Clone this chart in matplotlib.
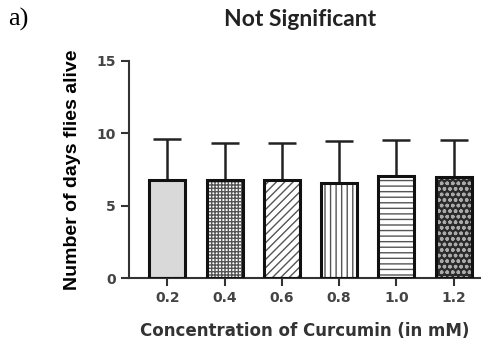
import numpy as np
import matplotlib.pyplot as plt

conc = ['0.2', '0.4', '0.6', '0.8', '1.0', '1.2']
days = [6.8, 6.8, 6.8, 6.55, 7.05, 6.95]
sd = [2.8, 2.55, 2.55, 2.95, 2.5, 2.6]
hatches = ['', '+++++', '////', '|||', '---', '']
faces = ['#d9d9d9', 'white', 'white', 'white', 'white', '#2b2b2b']

fig = plt.figure(figsize=(4.89, 3.49), dpi=100)
ax = fig.add_axes([129/489, 1-278/349, (480-129)/489, (278-61)/349])

x = np.arange(len(conc))
w = 0.63
ax.errorbar(x, days, yerr=[np.zeros(len(sd)), sd], fmt='none', ecolor='#222222',
            elinewidth=1.8, capsize=10, capthick=1.8, zorder=1)
for i in range(len(conc)):
    ax.bar(x[i], days[i], w, color=faces[i], edgecolor='#555555', hatch=hatches[i],
           linewidth=0, zorder=2)
    if i == 5:
        ax.bar(x[i], days[i], w, color='none', edgecolor='#aaaaaa', hatch='ooo',
               linewidth=0, zorder=3)
    ax.bar(x[i], days[i], w, color='none', edgecolor='#111111', linewidth=2.2, zorder=4)

ax.set_xlim(-0.67, 5.46)
ax.set_ylim(0, 15)
ax.set_yticks([0, 5, 10, 15])
ax.set_xticks(x)
ax.set_xticklabels(conc)
for s in ['top', 'right']:
    ax.spines[s].set_visible(False)
for s in ['left', 'bottom']:
    ax.spines[s].set_color('#333333')
    ax.spines[s].set_linewidth(1.5)
ax.tick_params(axis='both', colors='#333333', width=1.5, length=6, labelsize=10)
for t in ax.get_xticklabels() + ax.get_yticklabels():
    t.set_fontweight('bold')
    t.set_color('#444444')

ax.set_ylabel('Number of days flies alive', fontsize=14, fontweight='bold',
              family='Liberation Sans', labelpad=11)
ax.set_xlabel('Concentration of Curcumin (in mM)', fontsize=12, fontweight='bold',
              color='#333333', labelpad=12)
fig.text(0.613, 0.945, 'Not Significant', ha='center', va='center', fontsize=16.5,
         fontweight='bold', family='Lato', color='#222222')
fig.text(0.016, 0.945, 'a)', ha='left', va='center', fontsize=19,
         family='Liberation Serif')

fig.savefig('out.png', dpi=100)
